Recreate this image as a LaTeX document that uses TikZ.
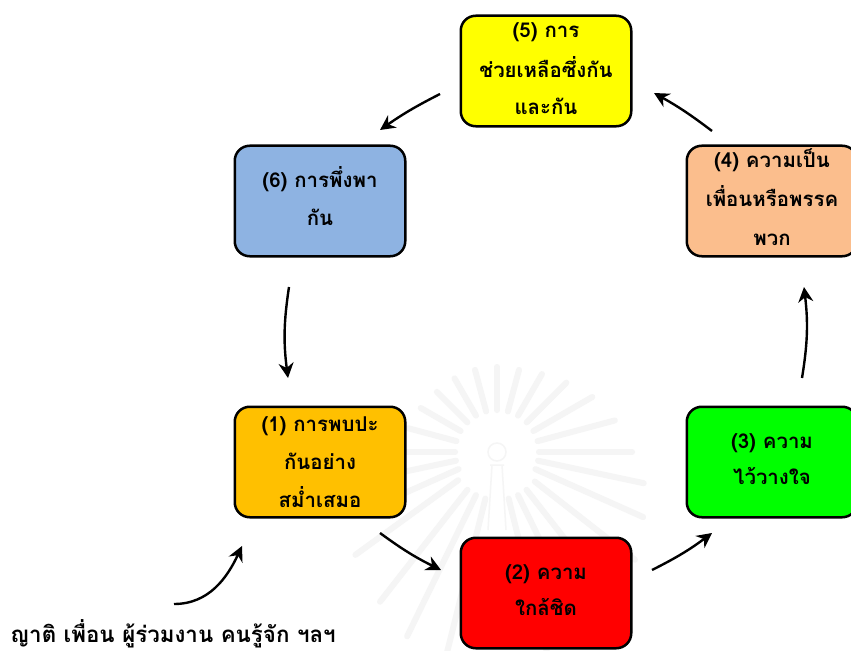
\documentclass[tikz,border=0pt]{standalone}
\usepackage{fontspec}
\newfontfamily\thaifont[Script=Thai]{Loma}
\usetikzlibrary{arrows.meta,calc}
\definecolor{cyellow}{RGB}{255,255,0}
\definecolor{cred}{RGB}{255,0,0}
\definecolor{cpeach}{RGB}{251,190,141}
\definecolor{cblue}{RGB}{142,179,226}
\definecolor{camber}{RGB}{255,192,0}
\definecolor{cgreen}{RGB}{0,255,0}
\definecolor{wm}{RGB}{245,245,245}
\newcommand{\liftby}[1]{\rule[-#1bp]{0pt}{0pt}}
\tikzset{
  stage/.style={draw=black,line width=2.5bp,rounded corners=15bp,minimum width=170.5bp,minimum height=110.5bp,inner sep=0pt,align=center,font=\thaifont\bfseries\fontsize{20.5}{37}\selectfont,text=black},
  flow/.style={-{Stealth[length=15bp,width=15bp]},line width=2.4bp},
  ray/.style={draw=wm,line width=6bp,line cap=round}
}
\begin{document}
\begin{tikzpicture}[x=1bp,y=-1bp]
\useasboundingbox (0,0) rectangle (851,651);
\fill[white] (0,0) rectangle (851,651);
\coordinate (wc) at (497,452);
\foreach \ang/\rad in {-165/92,-150/88,-135/85,-120/85,-105/85,-90/85,-75/85,-60/90,-45/98,-30/110,-15/122,0/135,12/150,24/160,-180/100,168/120,156/150}
  \draw[ray] ($(wc)+(\ang:42)$) -- ($(wc)+(\ang:\rad)$);
\foreach \ang/\rad in {38/175,52/190,64/205,76/215,144/175,128/190,116/205,104/215}
  \draw[ray] ($(wc)+(\ang:48)$) -- ($(wc)+(\ang:\rad)$);
\draw[wm,line width=1.5bp] (wc) circle (9);
\draw[wm,line width=1.5bp] (490,465) -- (504,465) (492,465) -- (488,530) (502,465) -- (506,530);
\node[stage,fill=cyellow] (n5) at (546,71) {(5) การ\\[4bp]ช่วยเหลือซึ่งกัน\\และกัน\liftby{5}};
\node[stage,fill=cpeach] (n4) at (772,201) {(4) ความเป็น\\[3bp]เพื่อนหรือพรรค\\[2bp]พวก\liftby{8}};
\node[stage,fill=cblue] (n6) at (320,201) {(6) การพึ่งพา\\[2bp]กัน\liftby{10}};
\node[stage,fill=camber] (n1) at (320,462) {(1) การพบปะ\\[1.5bp]กันอย่าง\\[1bp]สม่ำเสมอ};
\node[stage,fill=cgreen] (n3) at (772,462) {(3) ความ\\ไว้วางใจ\liftby{6}};
\node[stage,fill=cred] (n2) at (546,593) {(2) ความ\\ใกล้ชิด\liftby{6}};
\node[font=\thaifont\bfseries\fontsize{22.4}{26}\selectfont,anchor=west,inner sep=0pt,text=black] (src) at (10,634) {ญาติ เพื่อน ผู้ร่วมงาน คนรู้จัก ฯลฯ};
\coordinate (a0) at (174,604);\coordinate (a0e) at (242,546);
\draw[flow] (a0) to[out=0,in=-115] (a0e);
\coordinate (a1) at (380,533);\coordinate (a1e) at (441,570);
\draw[flow] (a1) to[bend right=5] (a1e);
\coordinate (a2) at (652,570);\coordinate (a2e) at (712,533);
\draw[flow] (a2) to[bend right=5] (a2e);
\coordinate (a3) at (802,378);\coordinate (a3e) at (804,287);
\draw[flow] (a3) to[bend right=8] (a3e);
\coordinate (a4) at (712,131);\coordinate (a4e) at (654,93);
\draw[flow] (a4) to[bend right=4] (a4e);
\coordinate (a5) at (440,94);\coordinate (a5e) at (380,130);
\draw[flow] (a5) to[bend right=4] (a5e);
\coordinate (a6) at (289,287);\coordinate (a6e) at (288,378);
\draw[flow] (a6) to[bend right=8] (a6e);
\end{tikzpicture}
\end{document}
